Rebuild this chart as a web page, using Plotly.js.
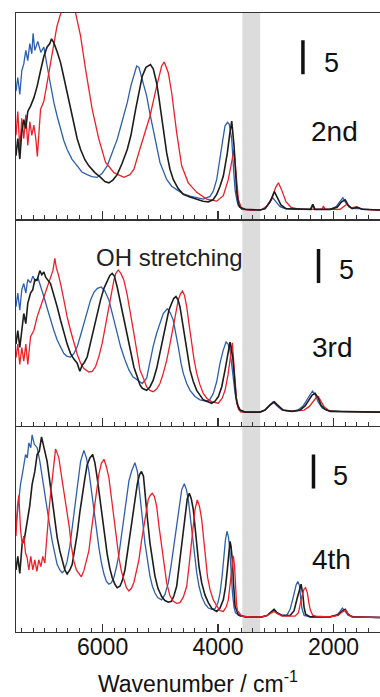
<!DOCTYPE html>
<html><head><meta charset="utf-8">
<script src="https://cdn.plot.ly/plotly-3.0.1.min.js"></script>
<style>html,body{margin:0;padding:0;background:#fff}#chart{width:380px;height:697px}</style>
</head><body><div id="chart"></div>
<script>
// ---------- Panel 1 (2nd) ----------
const p1BlueX=[7500,7469,7434,7400,7365,7330,7296,7261,7226,7204,7174,7122,7070,7018,6961,6902,6844,6787,6728,6671,6614,6532,6440,6359,6267,6186,6094,6007,5920,5839,5747,5660,5573,5509,5457,5410,5371,5325,5237,5180,5123,5064,5006,4890,4804,4717,4608,4486,4365,4256,4139,4082,4023,3983,3937,3906,3879,3836,3805,3763,3735,3706,3676,3649,3590,3446,3273,3186,3117,3052,2995,2926,2839,2666,2406,2359,2319,2059,1955,1886,1838,1790,1729,1625,1538,1367,1191];
const p1BlueY=[17.5,19.5,17.0,20.5,21.5,23.5,22.0,24.5,23.0,26.0,23.5,24.8,23.2,24.0,21.2,18.5,15.8,13.8,11.9,10.2,8.9,7.5,6.5,5.6,5.2,4.9,4.8,5.4,6.5,8.2,10.4,13.1,15.8,18.3,19.9,21.2,21.0,19.5,16.8,14.2,11.9,9.3,7.0,4.5,3.5,3.0,2.4,2.06,1.8,1.6,2.0,2.8,4.5,6.5,8.9,11.0,12.4,12.9,12.6,10.4,6.5,3.0,1.5,0.6,0.15,0,0,0.2,1.0,1.8,1.2,0.5,0.2,0.1,0.1,0.85,0.1,0.1,0.5,1.2,1.8,1.1,0.4,0.2,0.2,0.05,0];
const p1RedX=[7500,7469,7434,7400,7365,7330,7296,7261,7226,7191,7157,7130,7075,7018,6961,6902,6844,6792,6758,6701,6602,6498,6468,6428,6381,6295,6180,6064,5948,5804,5631,5527,5457,5371,5284,5180,5064,4977,4932,4862,4804,4717,4630,4516,4370,4197,4023,3909,3822,3763,3723,3689,3649,3590,3446,3238,3151,3064,3003,2955,2900,2822,2735,2580,2319,2197,2175,2146,1886,1769,1695,1596,1504,1191];
const p1RedY=[11.0,14.5,9.0,13.5,10.5,14.0,9.5,13.0,11.0,12.5,10.5,7.9,14.8,16.0,18.7,21.5,24.6,27.0,28.0,29.6,31.5,29.8,29.0,27.5,25.6,20.7,14.8,10.4,7.0,5.5,4.8,5.2,6.0,8.5,10.9,13.8,18.2,21.2,21.8,20.2,17.3,11.4,6.5,4.0,2.6,1.6,1.3,2.1,4.5,7.5,8.9,5.5,1.6,0.1,0,0.1,0.6,1.8,3.3,4.0,3.0,1.2,0.4,0.1,0.1,0.1,0.6,0.1,0.1,0.85,0.3,0.5,0.1,0];
const p1BlackX=[7500,7469,7434,7400,7365,7330,7296,7248,7191,7134,7075,7018,6961,6914,6884,6844,6787,6728,6671,6614,6555,6498,6440,6381,6307,6238,6134,6035,5960,5891,5822,5747,5665,5573,5509,5428,5371,5313,5249,5171,5123,5064,5024,4977,4937,4890,4833,4776,4694,4602,4486,4370,4261,4169,4087,4023,3966,3909,3839,3801,3763,3723,3697,3676,3649,3619,3533,3273,3186,3099,3024,2969,2908,2822,2580,2389,2359,2328,2059,1938,1860,1798,1746,1677,1596,1504,1191];
const p1BlackY=[8.0,10.5,7.5,11.5,13.3,12.0,14.5,15.3,16.5,18.2,20.5,22.6,24.0,24.5,25.2,24.6,23.3,21.7,19.5,17.3,14.8,12.4,10.5,8.9,7.4,6.5,5.5,4.8,4.2,4.0,4.4,5.2,6.8,8.9,11.0,14.8,17.3,19.7,21.0,21.4,20.8,18.7,16.5,13.8,11.0,8.4,6.0,4.5,3.2,2.3,1.9,1.6,1.3,1.2,1.5,2.3,3.5,5.0,8.4,11.0,13.1,9.4,5.5,2.6,1.0,0.4,0.1,0,0.2,1.2,2.7,1.8,0.7,0.2,0.1,0.1,0.85,0.1,0.1,0.4,1.2,1.5,0.7,0.2,0.4,0.1,0];

// ---------- Panel 2 (3rd) ----------
const p2BlueX=[7500,7469,7434,7400,7365,7330,7296,7248,7209,7162,7122,7070,7018,6961,6902,6844,6787,6728,6671,6614,6555,6498,6440,6381,6324,6267,6208,6151,6090,6024,5960,5891,5804,5747,5688,5613,5544,5474,5400,5313,5237,5180,5123,5064,5006,4949,4880,4828,4776,4729,4689,4642,4602,4543,4486,4400,4313,4197,4139,4082,4023,3966,3914,3862,3827,3793,3763,3735,3706,3676,3619,3533,3273,3186,3117,3047,2978,2891,2753,2614,2528,2458,2406,2365,2319,2267,2197,2093,1886,1191];
const p2BlueY=[15.5,17.5,15.0,18.0,18.9,17.5,19.5,19.0,20.0,19.2,19.8,18.2,17.0,15.3,13.5,12.0,10.6,9.5,8.6,8.2,8.1,8.6,9.6,11.3,13.0,14.8,16.5,17.6,18.2,18.4,17.8,16.5,13.5,11.5,9.6,7.7,6.2,5.2,4.7,4.2,5.0,7.6,9.7,11.6,13.2,14.5,15.2,14.6,13.5,11.5,9.6,7.2,5.7,4.2,3.2,2.3,1.8,1.6,1.9,2.75,4.5,7.2,9.0,10.3,10.0,9.1,6.8,4.7,2.8,1.3,0.3,0,0,0.3,0.9,1.5,0.9,0.3,0.1,0.3,0.9,1.9,2.7,3.1,2.6,1.5,0.6,0.2,0.1,0];
const p2RedX=[7500,7469,7434,7400,7365,7330,7296,7248,7191,7134,7075,7018,6961,6902,6861,6827,6801,6775,6728,6671,6614,6555,6498,6440,6381,6324,6238,6180,6121,6064,6007,5948,5891,5848,5804,5770,5729,5683,5631,5573,5514,5457,5400,5353,5284,5237,5180,5123,5064,5006,4949,4890,4833,4776,4729,4689,4651,4617,4582,4543,4504,4457,4417,4370,4313,4256,4192,4110,3996,3931,3879,3827,3793,3753,3718,3697,3676,3645,3602,3273,3186,3099,3021,2961,2874,2718,2510,2423,2354,2302,2261,2215,2163,2093,2007,1191];
const p2RedY=[8.0,10.0,7.0,9.5,7.5,10.0,7.0,11.1,12.0,14.0,15.5,17.0,18.5,19.9,20.8,22.6,21.2,20.5,18.9,16.5,14.0,12.0,10.1,8.5,7.2,6.4,5.9,6.0,6.7,8.2,10.1,12.8,15.5,17.5,19.4,20.4,20.9,20.4,19.4,17.2,14.5,11.5,8.6,6.2,4.8,3.7,3.2,3.0,3.4,4.2,5.7,7.6,10.0,12.5,14.8,16.5,17.4,17.8,17.2,15.5,13.0,10.1,7.8,5.7,4.0,2.75,2.0,1.5,1.3,2.0,3.2,5.5,8.1,10.2,6.2,3.5,1.3,0.4,0,0,0.3,1.0,1.5,0.9,0.3,0.1,0.3,0.8,1.6,2.1,2.25,1.6,0.8,0.3,0.1,0];
const p2BlackX=[7500,7469,7434,7400,7365,7330,7296,7248,7209,7174,7134,7087,7053,7018,6984,6902,6844,6787,6728,6671,6614,6555,6498,6440,6394,6354,6316,6267,6208,6151,6094,6035,5977,5920,5874,5834,5796,5747,5688,5631,5573,5514,5457,5400,5353,5313,5237,5180,5123,5064,5006,4949,4890,4851,4804,4768,4729,4694,4660,4617,4573,4530,4486,4429,4370,4256,4110,4053,3996,3937,3879,3836,3793,3746,3718,3689,3655,3619,3533,3273,3186,3108,3030,2961,2874,2718,2580,2493,2423,2371,2319,2267,2215,2146,2059,1191];
const p2BlackY=[10.0,12.0,9.5,12.5,14.5,13.0,16.0,17.5,18.0,19.5,19.4,20.8,20.2,20.6,19.8,18.9,17.3,15.5,13.5,11.6,10.0,8.6,7.8,7.2,6.0,6.9,7.3,8.1,10.2,12.5,14.5,16.5,18.2,19.4,20.1,20.4,20.0,18.4,16.0,13.5,11.0,8.6,6.6,5.2,4.0,3.5,3.2,3.7,4.7,6.4,8.6,11.0,13.5,15.0,16.0,16.7,17.0,16.5,15.5,13.4,11.1,8.6,6.2,4.5,3.2,1.8,1.3,1.6,2.25,3.7,6.2,8.6,10.3,8.1,5.0,2.25,0.9,0.3,0,0,0.3,1.0,1.5,0.9,0.3,0.1,0.3,0.9,1.9,2.5,2.75,2.1,1.0,0.4,0.1,0];

// ---------- Panel 3 (4th) ----------
const p3BlueX=[7500,7469,7422,7382,7335,7304,7278,7244,7221,7183,7134,7087,7047,7001,6961,6914,6874,6827,6787,6740,6701,6663,6614,6567,6527,6480,6440,6381,6324,6281,6238,6195,6151,6108,6064,6021,5977,5934,5891,5848,5804,5761,5717,5674,5631,5587,5544,5500,5440,5397,5353,5310,5267,5223,5180,5137,5093,5041,4977,4920,4862,4816,4776,4729,4689,4630,4585,4547,4516,4486,4457,4417,4370,4330,4283,4226,4169,4105,4053,4001,3966,3931,3897,3871,3845,3819,3801,3776,3750,3723,3697,3619,3446,3238,3151,3082,3030,2978,2891,2804,2752,2695,2648,2619,2588,2570,2549,2510,2405,2059,1938,1886,1846,1798,1746,1625,1191];
const p3BlueY=[13.5,16.0,19.6,21.5,24.0,23.5,25.7,25.0,26.9,25.5,25.0,23.0,20.6,18.0,15.7,13.4,11.3,9.3,7.8,7.0,6.6,6.9,8.3,10.5,13.2,16.5,19.1,23.0,24.6,23.5,21.6,18.8,15.7,12.8,10.3,8.1,6.4,5.3,4.9,5.1,5.9,7.4,9.3,12.0,14.7,17.6,20.1,21.5,22.8,21.5,18.3,14.5,11.0,8.3,6.1,4.6,3.6,2.9,2.6,3.4,5.1,7.5,10.0,13.2,15.9,18.8,19.7,18.8,17.4,15.2,12.5,9.3,6.6,4.6,3.1,2.0,1.4,1.2,1.3,2.2,3.6,6.0,9.5,11.5,12.7,11.8,10.5,7.0,3.6,1.5,0.7,0.2,0.1,0.1,0.3,0.8,1.2,0.7,0.3,0.4,1.2,3.1,4.8,5.3,4.7,3.0,1.4,0.3,0.1,0.1,0.4,0.9,1.4,0.9,0.3,0.1,0];
const p3BlackX=[7500,7469,7434,7394,7356,7307,7261,7221,7174,7134,7096,7058,7018,6961,6914,6874,6827,6787,6740,6701,6654,6614,6567,6527,6480,6440,6394,6354,6307,6267,6220,6172,6134,6094,6047,6007,5960,5920,5874,5834,5787,5747,5700,5660,5613,5573,5527,5487,5440,5400,5362,5327,5292,5267,5223,5180,5137,5093,5041,4977,4920,4862,4807,4764,4717,4677,4630,4599,4573,4533,4498,4464,4429,4400,4370,4330,4283,4226,4169,4105,4023,3966,3909,3871,3839,3814,3793,3776,3753,3732,3706,3649,3533,3238,3151,3082,3030,2978,2891,2752,2683,2631,2591,2562,2533,2510,2484,2405,2059,1921,1860,1798,1746,1677,1191];
const p3BlackY=[7.0,9.0,6.5,10.8,11.5,14.2,16.5,19.6,21.5,24.0,24.5,26.6,25.0,23.0,20.0,17.6,14.5,11.8,9.8,8.3,7.0,6.4,7.0,7.8,10.0,12.3,15.5,18.1,20.5,22.5,23.5,24.0,22.8,20.6,17.5,14.7,11.8,9.3,7.2,5.9,4.9,4.4,4.6,5.4,7.0,9.3,12.0,14.7,17.5,19.6,21.0,21.5,20.8,18.3,14.5,11.0,8.2,6.1,4.3,3.1,2.5,2.25,2.4,3.2,4.6,7.5,11.0,13.5,15.4,17.5,18.3,17.5,15.9,13.5,11.0,7.5,5.1,3.3,2.2,1.3,0.9,1.4,2.6,4.5,7.1,9.5,11.2,10.5,8.5,5.0,1.7,0.4,0.1,0.1,0.3,0.8,1.2,0.7,0.3,0.3,1.0,2.8,4.3,4.9,3.5,1.5,0.5,0.1,0.1,0.4,0.9,1.2,0.5,0.1,0];
const p3RedX=[7500,7474,7451,7422,7394,7365,7335,7307,7278,7244,7209,7174,7139,7105,7070,7035,7001,6961,6931,6902,6874,6844,6815,6787,6758,6715,6671,6628,6575,6541,6498,6454,6411,6368,6324,6281,6238,6195,6151,6108,6064,6021,5977,5934,5891,5848,5804,5761,5717,5674,5631,5587,5544,5500,5457,5414,5371,5327,5284,5240,5209,5174,5140,5102,5064,5024,4977,4937,4890,4833,4776,4717,4660,4602,4543,4504,4457,4426,4400,4360,4322,4283,4256,4226,4183,4139,4082,4023,3966,3909,3862,3822,3793,3763,3735,3714,3701,3680,3663,3590,3446,3238,3151,3082,3030,2978,2891,2666,2608,2549,2510,2484,2452,2428,2405,2359,2302,2059,1921,1851,1790,1738,1677,1191];
const p3RedY=[12.0,16.5,18.0,13.0,10.8,12.0,9.5,8.8,7.0,9.0,7.0,8.5,6.8,8.5,7.5,9.0,8.0,13.2,15.5,18.1,20.5,23.0,24.8,24.2,23.5,21.0,18.6,15.8,13.2,10.5,8.3,7.0,6.4,6.0,6.9,8.2,9.8,12.8,15.7,18.5,21.1,22.7,23.3,22.2,20.6,17.7,14.7,11.7,8.8,6.8,5.4,4.4,3.9,4.3,5.2,6.8,8.5,11.2,13.5,15.7,17.4,18.0,18.3,17.8,16.4,13.5,10.5,7.8,5.1,3.2,2.4,2.1,2.2,3.0,4.6,7.5,11.0,13.5,15.9,17.3,16.4,14.4,11.8,9.0,6.0,4.1,2.6,1.7,1.0,0.9,1.5,2.6,4.5,7.1,9.1,7.5,4.6,2.0,1.0,0.2,0.1,0.1,0.3,0.7,0.9,0.6,0.2,0.2,0.7,3.1,4.2,4.4,3.6,2.2,1.2,0.3,0.2,0.1,0.3,0.8,1.1,0.4,0.1,0];

// ---------- labels / scale bars ----------
const orderLabels=['2nd','3rd','4th'];
const scaleBarX=[2530,2260,2347];
const scaleBarY0=[20,19,19];
const scaleBarY1=[25,24,24];
const scaleLabel='5';
const bandRange=[3580,3270];
const xTickVals=[6000,4000,2000];

const C={blue:'#2d5fae',red:'#ec2027',black:'#1d1d1b'};
const F='"Liberation Sans", Arial, sans-serif';

function tr(x,y,color,ax,w){return {x:x,y:y,type:'scatter',mode:'lines',line:{color:color,width:w||1.3},xaxis:'x'+ax,yaxis:'y'+ax,hoverinfo:'skip',showlegend:false};}
const data=[
 tr(p1BlueX,p1BlueY,C.blue,''),tr(p1RedX,p1RedY,C.red,''),tr(p1BlackX,p1BlackY,C.black,'',1.6),
 tr(p2BlueX,p2BlueY,C.blue,'2'),tr(p2RedX,p2RedY,C.red,'2'),tr(p2BlackX,p2BlackY,C.black,'2',1.6),
 tr(p3BlueX,p3BlueY,C.blue,'3'),tr(p3BlackX,p3BlackY,C.black,'3',1.6),tr(p3RedX,p3RedY,C.red,'3')
];

function xa(labels){return {range:[7500,1195],autorange:false,tickmode:'array',tickvals:xTickVals,ticks:'inside',ticklen:8,tickwidth:1.2,tickcolor:'#333',
 minor:{tickmode:'linear',tick0:0,dtick:200,ticks:'inside',ticklen:4,tickwidth:1,tickcolor:'#333'},
 showline:true,linecolor:'#333',linewidth:1.3,showgrid:false,zeroline:false,showticklabels:labels,
 tickfont:{family:F,size:23,color:'#111'}};}
function ya(dom,rng){return {domain:dom,range:rng,autorange:false,showline:true,linecolor:'#333',linewidth:1.3,ticks:'',showticklabels:false,showgrid:false,zeroline:false};}

const layout={width:380,height:697,margin:{l:16,r:0,t:13,b:65},paper_bgcolor:'#fff',plot_bgcolor:'rgba(0,0,0,0)',
 font:{family:F,color:'#111'},
 xaxis:Object.assign(xa(false),{anchor:'y',mirror:true}),
 xaxis2:Object.assign(xa(false),{anchor:'y2'}),
 xaxis3:Object.assign(xa(true),{anchor:'y3',ticklabelstandoff:-6,title:{text:'Wavenumber / cm<sup>-1</sup>',font:{family:F,size:23,color:'#111'},standoff:20}}),
 yaxis:ya([0.6667,1],[-1.37,29.0]),
 yaxis2:ya([0.3333,0.6667],[-2.0,28.35]),
 yaxis3:ya([0,0.3333],[-2.13,28.24]),
 shapes:[{type:'rect',xref:'x',yref:'paper',x0:bandRange[0],x1:bandRange[1],y0:0,y1:1,fillcolor:'#dcdcdc',line:{width:0},layer:'below'}],
 annotations:[]
};
const axs=['','2','3'];
const labelPos=[[1989,11.6],[2024,9.5],[2041,8.5]];
const fivePos=[[2039,21.7],[1769,20.9],[1885,20.8]];
for(let i=0;i<3;i++){
 layout.shapes.push({type:'line',xref:'x'+axs[i],yref:'y'+axs[i],x0:scaleBarX[i],x1:scaleBarX[i],y0:scaleBarY0[i],y1:scaleBarY1[i],line:{color:'#111',width:3.5}});
 layout.annotations.push({xref:'x'+axs[i],yref:'y'+axs[i],x:labelPos[i][0],y:labelPos[i][1],text:orderLabels[i],showarrow:false,font:{family:F,size:28,color:'#111'},xanchor:'center',yanchor:'middle'});
 layout.annotations.push({xref:'x'+axs[i],yref:'y'+axs[i],x:fivePos[i][0],y:fivePos[i][1],text:scaleLabel,showarrow:false,font:{family:F,size:27,color:'#111'},xanchor:'center',yanchor:'middle'});
}
layout.annotations.push({xref:'x2',yref:'y2',x:4833,y:22.7,text:'OH stretching',showarrow:false,font:{family:F,size:24,color:'#222'},xanchor:'center',yanchor:'middle'});

Plotly.newPlot('chart',data,layout,{staticPlot:true,displayModeBar:false});
</script></body></html>
